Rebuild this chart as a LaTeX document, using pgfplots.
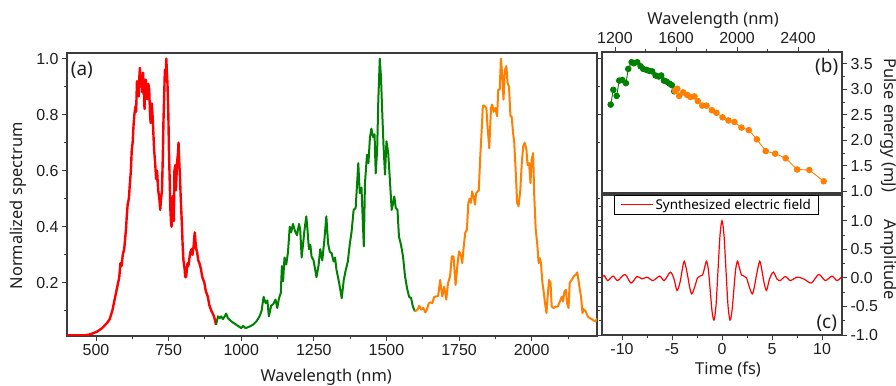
\documentclass[border=0pt]{standalone}
\usepackage{fontspec}
\setmainfont{Noto Sans}
\newfontfamily\tickfont{Liberation Sans}
\usepackage{pgfplots}
\pgfplotsset{compat=1.18}
\definecolor{cgreen}{RGB}{0,128,0}
\definecolor{corange}{RGB}{255,127,0}
\definecolor{axisgray}{RGB}{60,60,60}
\definecolor{txt}{RGB}{30,30,30}
\newcommand{\labfont}{\fontsize{16.5}{19}\selectfont}
\begin{document}
\begin{tikzpicture}
\useasboundingbox (0bp,0bp) rectangle (896bp,386bp);
\pgfplotsset{
  myaxis/.style={
    scale only axis, anchor=south west,
    axis line style={axisgray, line width=1.3bp},
    every tick/.style={axisgray, line width=0.9bp},
    tick align=outside,
    major tick length=5bp, minor tick length=3bp,
    tick label style={font=\fontsize{16}{18}\selectfont\tickfont, text=txt},
    /pgf/number format/assume math mode=true,
    /pgf/number format/1000 sep={},
  }
}
% ---------------- (a) ----------------
\begin{axis}[myaxis, at={(67bp,50bp)}, width=530bp, height=283bp,
  xmin=400, xmax=2225, ymin=0.01, ymax=1.02,
  xtick={500,750,1000,1250,1500,1750,2000},
  minor xtick={625,875,1125,1375,1625,1875,2125},
  ytick={0.2,0.4,0.6,0.8,1.0},
  minor ytick={0.1,0.3,0.5,0.7,0.9},
  xtick pos=lower,
  yticklabel style={/pgf/number format/.cd, fixed, fixed zerofill, precision=1},
  xlabel={Wavelength (nm)}, ylabel={Normalized spectrum},
  every axis x label/.style={at={(axis description cs:0.489,-0.145)}, anchor=center, font=\labfont, text=txt},
  every axis y label/.style={at={(axis description cs:-0.0925,0.46)}, anchor=center, rotate=90, font=\labfont, text=txt},
]
\addplot[red, line width=2.4bp, line join=round] coordinates {
(398,0.012)(420,0.012)(450,0.012)(468,0.013)(486,0.018)(504,0.026)(521,0.038)(539,0.058)
(547,0.07)(556,0.10)(568,0.16)(580,0.22)(584,0.27)(588,0.26)(592,0.30)(597,0.32)(603,0.39)(606,0.44)(609,0.48)
(613,0.50)(617,0.56)(620,0.60)(623,0.675)(626,0.70)(629,0.76)(632,0.80)(636,0.83)(638,0.81)(641,0.92)(644,0.88)(647,0.865)
(649,0.93)(651,0.967)(654,0.90)(656,0.94)(659,0.88)(662,0.95)(665,0.87)(667,0.82)(669,0.90)(671,0.925)(674,0.86)(677,0.855)
(680,0.91)(683,0.89)(686,0.80)(688,0.77)(692,0.84)(695,0.79)(698,0.72)(700,0.675)(704,0.62)(707,0.57)(710,0.60)(714,0.53)
(718,0.50)(721,0.46)(724,0.50)(727,0.53)(730,0.65)(732,0.77)(735,0.88)(737,0.96)(740,0.93)(742,1.0)(744,0.95)(746,0.91)
(749,0.80)(751,0.675)(754,0.55)(756,0.46)(758,0.42)(760,0.40)(763,0.47)(765,0.51)(768,0.42)(770,0.60)(773,0.62)(775,0.53)
(777,0.58)(779,0.63)(782,0.66)(784,0.70)(787,0.62)(789,0.58)(791,0.52)(793,0.47)(796,0.40)(798,0.34)(801,0.28)(805,0.25)
(807,0.22)(810,0.22)(813,0.25)(815,0.27)(818,0.26)(822,0.29)(825,0.31)(829,0.32)(832,0.30)(836,0.33)(838,0.36)(840,0.38)
(843,0.34)(845,0.32)(848,0.31)(852,0.28)(856,0.27)(861,0.25)(866,0.22)(873,0.20)(878,0.17)(885,0.15)(890,0.12)(897,0.10)
(902,0.09)(906,0.08)(910,0.065)(913,0.05)};
\addplot[cgreen, line width=2bp, line join=round] coordinates {
(913,0.05)(920,0.08)(926,0.074)(931,0.08)(937,0.07)(943,0.08)(948,0.09)(954,0.074)(966,0.062)(977,0.054)(989,0.046)
(1000,0.038)(1006,0.046)(1015,0.038)(1029,0.044)(1040,0.05)(1052,0.062)(1063,0.08)(1070,0.10)(1077,0.15)(1084,0.127)
(1090,0.137)(1095,0.08)(1103,0.118)(1111,0.125)(1118,0.14)(1124,0.11)(1130,0.145)(1136,0.163)(1140,0.26)(1144,0.205)
(1149,0.29)(1155,0.265)(1161,0.31)(1167,0.40)(1172,0.38)(1178,0.41)(1185,0.385)(1192,0.37)(1199,0.41)(1203,0.39)
(1208,0.29)(1213,0.34)(1218,0.39)(1224,0.437)(1228,0.39)(1233,0.32)(1238,0.335)(1242,0.294)(1249,0.28)(1259,0.22)
(1266,0.26)(1272,0.32)(1279,0.28)(1286,0.35)(1293,0.437)(1299,0.34)(1305,0.31)(1311,0.306)(1318,0.276)(1323,0.29)
(1328,0.246)(1337,0.20)(1346,0.145)(1353,0.21)(1360,0.246)(1367,0.276)(1374,0.34)(1380,0.383)(1387,0.46)(1394,0.467)
(1399,0.556)(1403,0.627)(1408,0.52)(1414,0.54)(1422,0.33)(1426,0.556)(1433,0.657)(1438,0.627)(1443,0.717)(1448,0.75)
(1454,0.72)(1459,0.73)(1463,0.59)(1468,0.675)(1472,0.854)(1477,1.0)(1481,0.937)(1486,0.794)(1490,0.687)(1495,0.586)
(1500,0.705)(1506,0.663)(1511,0.58)(1518,0.46)(1523,0.485)(1527,0.508)(1532,0.467)(1538,0.46)(1543,0.365)(1550,0.336)
(1557,0.294)(1564,0.223)(1571,0.18)(1578,0.15)(1585,0.145)(1591,0.115)(1598,0.098)};
\addplot[corange, line width=2bp, line join=round] coordinates {
(1598,0.098)(1607,0.104)(1613,0.118)(1620,0.104)(1627,0.11)(1634,0.094)(1639,0.104)(1646,0.127)(1653,0.13)(1658,0.127)
(1664,0.149)(1671,0.151)(1678,0.153)(1685,0.21)(1692,0.151)(1699,0.186)(1706,0.14)(1712,0.198)(1719,0.223)(1725,0.294)
(1731,0.294)(1738,0.192)(1745,0.27)(1750,0.312)(1756,0.30)(1761,0.27)(1765,0.318)(1771,0.377)(1777,0.39)(1782,0.485)
(1786,0.50)(1791,0.485)(1795,0.526)(1800,0.508)(1805,0.479)(1809,0.52)(1814,0.526)(1818,0.53)(1823,0.65)(1828,0.746)
(1832,0.832)(1837,0.832)(1844,0.824)(1848,0.758)(1854,0.68)(1860,0.824)(1864,0.836)(1869,0.81)(1875,0.824)(1881,0.794)
(1885,0.889)(1890,0.889)(1894,1.0)(1899,0.937)(1903,0.854)(1908,0.96)(1913,0.973)(1917,0.913)(1922,0.90)(1927,0.794)
(1931,0.794)(1936,0.735)(1940,0.70)(1945,0.60)(1950,0.485)(1955,0.473)(1961,0.532)(1966,0.627)(1971,0.687)(1976,0.70)
(1982,0.675)(1986,0.62)(1991,0.627)(1996,0.556)(2000,0.64)(2005,0.663)(2009,0.508)(2014,0.39)(2019,0.342)(2024,0.27)
(2028,0.288)(2032,0.27)(2037,0.20)(2042,0.163)(2046,0.127)(2051,0.092)(2055,0.151)(2060,0.21)(2065,0.20)(2069,0.115)
(2076,0.11)(2083,0.115)(2090,0.115)(2097,0.133)(2104,0.151)(2108,0.133)(2113,0.169)(2118,0.175)(2122,0.127)(2127,0.11)
(2131,0.20)(2138,0.21)(2145,0.223)(2152,0.229)(2157,0.237)(2161,0.21)(2166,0.175)(2170,0.151)(2175,0.092)(2179,0.106)
(2186,0.098)(2193,0.08)(2200,0.074)(2207,0.07)(2214,0.065)(2220,0.062)(2225,0.072)};
\node[anchor=north west, font=\fontsize{19}{22}\selectfont, text=txt, inner sep=0pt] at (rel axis cs:0.007,0.97) {(a)};
\end{axis}
% ---------------- (b) ----------------
\begin{axis}[myaxis, at={(602bp,193bp)}, width=240bp, height=141bp,
  xmin=1115, xmax=2688, ymin=0.97, ymax=3.73,
  xtick={1200,1600,2000,2400}, minor xtick={1400,1800,2200,2600},
  ytick={1.0,1.5,2.0,2.5,3.0,3.5}, minor ytick={1.25,1.75,2.25,2.75,3.25},
  xtick pos=upper, xticklabel pos=upper,
  ytick pos=right, yticklabel pos=right,
  yticklabel style={/pgf/number format/.cd, fixed, fixed zerofill, precision=1},
  xlabel={Wavelength (nm)}, ylabel={Pulse energy (mJ)},
  every axis x label/.style={at={(axis description cs:0.463,1.227)}, anchor=center, font=\labfont, text=txt},
  every axis y label/.style={at={(axis description cs:1.196,0.48)}, anchor=center, rotate=-90, font=\labfont, text=txt},
]
\addplot[cgreen, line width=0.9bp, mark=*, mark size=2.8bp, mark options={fill=cgreen, draw=cgreen}] coordinates {
(1172,2.70)(1189,2.99)(1211,2.87)(1228,3.17)(1248,3.18)(1272,3.12)(1287,3.40)(1309,3.53)(1324,3.51)(1346,3.53)
(1368,3.45)(1385,3.40)(1407,3.38)(1425,3.36)(1444,3.35)(1466,3.27)(1486,3.25)(1503,3.27)(1521,3.17)(1538,3.15)
(1558,3.11)(1573,3.08)(1588,2.96)};
\addplot[corange, line width=0.9bp, mark=*, mark size=2.8bp, mark options={fill=corange, draw=corange}] coordinates {
(1593,2.97)(1608,3.01)(1621,2.87)(1647,2.94)(1673,2.89)(1695,2.85)(1721,2.86)(1743,2.77)(1772,2.68)(1800,2.68)
(1835,2.59)(1865,2.54)(1905,2.45)(1944,2.39)(1983,2.36)(2029,2.25)(2077,2.20)(2130,2.02)(2188,1.79)(2250,1.74)
(2319,1.65)(2394,1.43)(2474,1.42)(2568,1.20)};
\node[anchor=north east, font=\fontsize{19}{22}\selectfont, text=txt, inner sep=0pt] at (rel axis cs:0.985,0.955) {(b)};
\end{axis}
% ---------------- (c) ----------------
\begin{axis}[myaxis, at={(602bp,51bp)}, width=240bp, height=140bp,
  xmin=-12, xmax=12, ymin=-1, ymax=1.45,
  xtick={-10,-5,0,5,10}, minor xtick={-7.5,-2.5,2.5,7.5},
  ytick={-1,-0.5,0,0.5,1}, minor ytick={-0.75,-0.25,0.25,0.75,1.25},
  xtick pos=lower, yticklabel pos=right,
  yticklabel style={/pgf/number format/.cd, fixed, fixed zerofill, precision=1},
  xlabel={Time (fs)}, ylabel={Amplitude},
  every axis x label/.style={at={(axis description cs:0.525,-0.25)}, anchor=center, font=\labfont, text=txt},
  every axis y label/.style={at={(axis description cs:1.196,0.536)}, anchor=center, rotate=-90, font=\labfont, text=txt},
  legend style={at={(axis description cs:0.05,1)}, anchor=north west, draw=black, line width=0.8bp,
    font=\fontsize{13.5}{15}\selectfont, inner xsep=6bp, inner ysep=1.5bp},
  legend cell align=left,
  legend image code/.code={\draw[#1, line width=1.2bp] (0bp,0bp) -- (32bp,0bp);},
]
\addplot[red, line width=1.2bp, smooth] coordinates {
(-12.0,0.012)(-11.77,0.04)(-11.43,-0.047)(-10.9,0.03)(-10.43,-0.047)(-9.7,0.06)(-9.1,-0.09)(-8.5,0.023)(-8.0,-0.018)
(-7.5,0.012)(-6.9,-0.047)(-6.23,0.03)(-5.77,-0.047)(-5.17,0.10)(-4.8,-0.02)(-4.5,-0.22)(-4.2,-0.08)(-4.0,0.12)(-3.77,0.29)
(-3.45,0.05)(-3.25,-0.15)(-3.03,-0.28)(-2.75,-0.17)(-2.45,0.0)(-2.2,0.03)(-1.95,0.05)(-1.75,0.17)(-1.55,0.29)
(-1.36,0.14)(-1.175,-0.225)(-0.99,-0.59)(-0.8,-0.74)(-0.6,-0.485)(-0.4,0.13)(-0.2,0.745)(0,1.0)
(0.2,0.745)(0.4,0.13)(0.6,-0.485)(0.8,-0.74)(0.99,-0.59)(1.175,-0.225)(1.36,0.14)(1.55,0.29)(1.75,0.17)(1.95,0.05)
(2.2,0.03)(2.45,0.0)(2.75,-0.17)(3.03,-0.28)(3.25,-0.15)(3.45,0.05)(3.77,0.29)(4.0,0.12)(4.2,-0.08)(4.45,-0.22)
(4.75,-0.02)(5.13,0.10)(5.5,-0.02)(5.83,-0.047)(6.33,0.023)(6.83,-0.047)(7.5,0.012)(8.17,-0.018)(8.93,-0.09)
(9.67,0.06)(10.33,-0.047)(11.0,0.03)(11.5,-0.047)(12.0,0.023)};
\addlegendentry{Synthesized electric field}
\node[anchor=south east, font=\fontsize{19}{22}\selectfont, text=txt, inner sep=0pt] at (rel axis cs:0.98,0.025) {(c)};
\end{axis}
\end{tikzpicture}
\end{document}
